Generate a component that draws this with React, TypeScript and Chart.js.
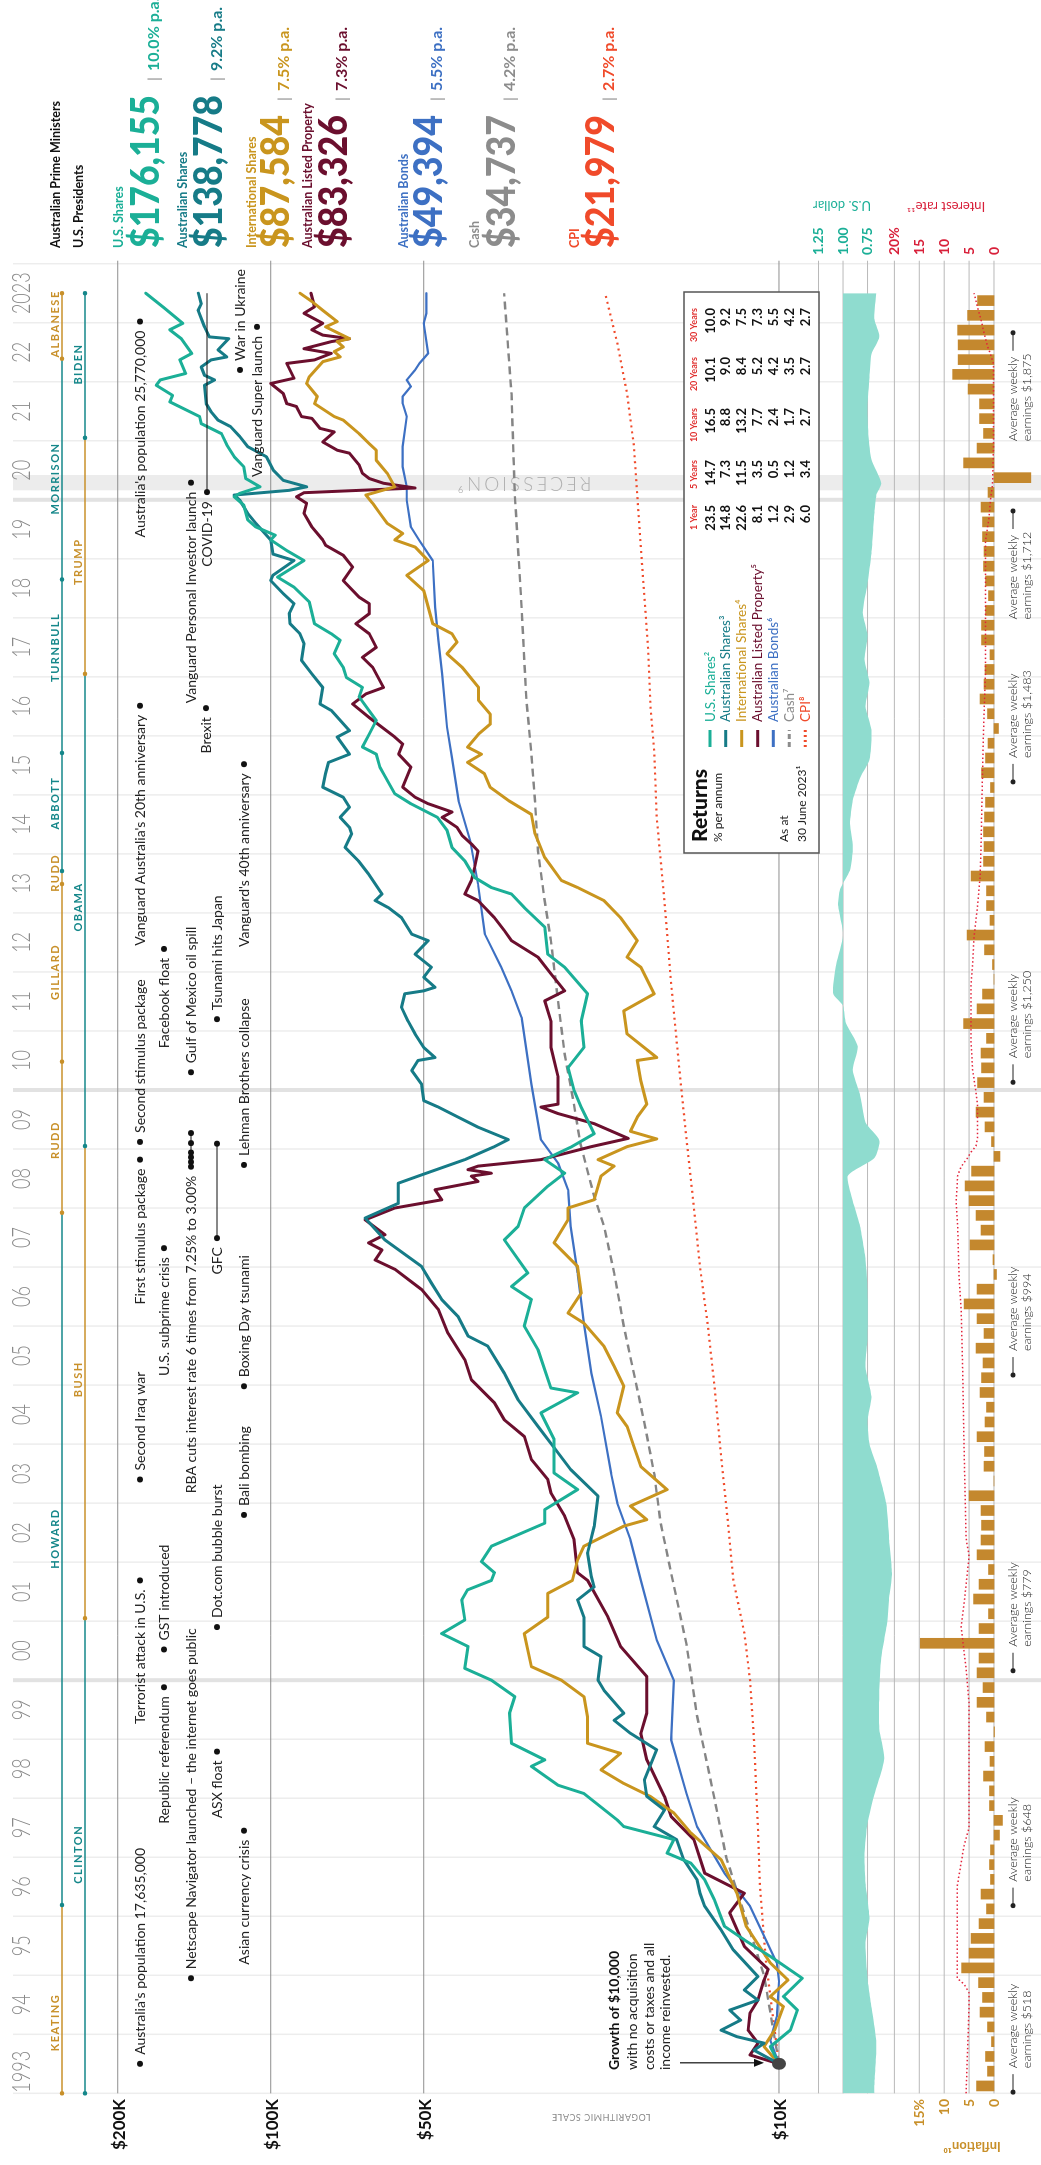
import React, { useEffect, useRef } from 'react';
import { Chart, registerables } from 'chart.js';

Chart.register(...registerables);

// ---------------- DATA ----------------
// Growth of $10,000 invested 30 June 1993 (values in $ thousands), time in decimal years
const usShares = [[1993.5,10],[1993.79,10.4],[1994.07,9.5],[1994.41,9.2],[1994.64,9.8],[1994.95,9.0],[1995.32,10.4],[1995.6,11.7],[1995.83,12.8],[1996.28,13.4],[1996.62,14.0],[1996.9,14.9],[1997.07,16.6],[1997.3,16.1],[1997.52,20.2],[1997.63,20.8],[1998.08,24.2],[1998.22,27.2],[1998.54,30.7],[1998.65,28.9],[1998.93,33.6],[1999.44,33.9],[1999.72,33.1],[2000.0,36.8],[2000.2,41.5],[2000.57,40.9],[2000.79,46.1],[2001.02,41.5],[2001.36,42.1],[2001.53,41.0],[2001.69,36.8],[2001.82,36.3],[2002.01,38.5],[2002.27,36.8],[2002.66,28.9],[2002.89,28.9],[2003.23,24.9],[2003.51,27.7],[2004.08,27.7],[2004.53,29.4],[2004.87,24.9],[2004.95,28.1],[2005.6,29.8],[2006.0,31.7],[2006.45,30.7],[2006.67,33.6],[2006.9,31.2],[2007.46,34.7],[2007.69,32.6],[2008.0,31.7],[2008.37,28.5],[2008.59,26.4],[2008.82,28.9],[2009.03,25.7],[2009.26,23.1],[2009.71,24.5],[2009.99,25.3],[2010.38,26.0],[2010.72,24.2],[2011.17,24.5],[2011.63,23.8],[2012.08,26.4],[2012.3,28.5],[2012.76,28.9],[2013.09,31.7],[2013.32,33.6],[2013.43,36.8],[2013.6,39.7],[2013.88,41.5],[2014.11,44],[2014.4,45],[2014.62,47],[2014.85,53],[2015.02,57],[2015.36,60],[2015.47,61],[2015.69,62],[2015.81,66],[2016.03,64],[2016.26,62],[2016.66,67],[2016.82,66],[2016.99,71],[2017.16,72],[2017.39,75],[2017.62,73],[2017.73,76],[2017.9,82],[2018.27,84],[2018.52,90],[2018.69,97],[2018.97,86],[2019.14,93],[2019.32,100],[2019.4,98],[2019.54,107],[2019.66,111],[2019.91,113],[2020.05,118],[2020.11,115],[2020.22,105],[2020.36,112],[2020.56,113],[2020.73,118],[2020.93,122],[2021.12,125],[2021.29,137],[2021.41,138],[2021.66,158],[2021.77,156],[2021.94,168],[2022.03,165],[2022.14,147],[2022.37,151],[2022.48,143],[2022.73,150],[2022.88,158],[2022.99,149],[2023.25,162],[2023.5,176.155]];
const ausShares = [[1993.5,10],[1993.73,11.2],[1993.85,10.7],[1993.96,12.1],[1994.07,13.0],[1994.24,11.9],[1994.41,12.5],[1994.58,11.0],[1994.75,11.7],[1994.98,11.0],[1995.43,12.3],[1995.77,13.0],[1996.17,14.0],[1996.39,14.3],[1996.62,14.5],[1996.96,15.4],[1997.3,15.9],[1997.52,17.6],[1997.8,16.8],[1998.03,18.2],[1998.31,18.4],[1998.82,17.4],[1999.1,19.6],[1999.32,21.1],[1999.44,20.2],[1999.83,22.1],[2000.0,22.7],[2000.4,22.4],[2000.57,24.2],[2001.07,24.2],[2001.36,24.9],[2001.58,23.1],[2001.76,23.4],[2002.16,23.8],[2002.61,23.1],[2003.12,22.7],[2003.57,25.7],[2003.85,27.2],[2004.3,29.8],[2004.75,32.6],[2005.2,34.7],[2005.66,37.4],[2005.83,40.9],[2006.16,42.8],[2006.45,46.1],[2006.73,48.3],[2007.01,50.5],[2007.46,59.6],[2007.83,65.2],[2008.08,56.1],[2008.42,56.1],[2008.54,51.3],[2008.82,41.5],[2009.04,36.3],[2009.16,34.1],[2009.37,39.1],[2009.54,42.8],[2009.71,46.8],[2009.82,50],[2010.1,50.5],[2010.33,52.8],[2010.5,51.3],[2010.55,47.5],[2010.72,50],[2010.95,52],[2011.17,53.7],[2011.4,55.3],[2011.63,54.5],[2011.68,50],[2011.74,47.5],[2011.91,50],[2012.08,48.3],[2012.3,52],[2012.53,49],[2012.64,52.8],[2012.92,55.3],[2013.09,58.7],[2013.21,62.3],[2013.32,60.4],[2013.66,64.2],[2013.88,67.2],[2014.11,71.4],[2014.34,69.3],[2014.45,70],[2014.62,73],[2014.79,70],[2014.96,72],[2015.13,79],[2015.36,78],[2015.55,77],[2015.69,70],[2015.98,74],[2016.09,70],[2016.43,76],[2016.54,80],[2016.82,79],[2017.05,83],[2017.28,87],[2017.56,86],[2017.73,87.6],[2017.9,91.6],[2018.07,92],[2018.24,90],[2018.41,94.5],[2018.63,100],[2018.72,99],[2018.97,90],[2019.08,99],[2019.32,100],[2019.6,107],[2019.77,111],[2019.99,115],[2020.08,118],[2020.16,92],[2020.22,85],[2020.33,94.5],[2020.5,98.8],[2020.73,102],[2020.9,111],[2021.07,115],[2021.24,120],[2021.35,127],[2021.49,131],[2021.63,134],[2021.94,135],[2022.03,129],[2022.11,135],[2022.25,137],[2022.37,131],[2022.42,122],[2022.54,127],[2022.73,121],[2022.76,132],[2022.93,135],[2023.21,139],[2023.32,137],[2023.5,138.778]];
const intlShares = [[1993.5,10],[1993.79,10.7],[1994.07,10.2],[1994.47,9.8],[1994.64,10.4],[1994.92,9.6],[1995.21,10.4],[1995.83,11.6],[1996.39,12.1],[1996.96,13.0],[1997.41,14.9],[1997.75,16.1],[1998.03,17.9],[1998.25,20.2],[1998.48,22.4],[1998.76,20.5],[1998.93,23.8],[1999.38,23.8],[1999.72,24.2],[2000.0,26.8],[2000.23,30.7],[2000.79,31.7],[2001.07,28.5],[2001.47,28.5],[2001.69,25.5],[2002.04,24.9],[2002.27,24.2],[2002.61,20.2],[2002.72,18.2],[2002.95,19.6],[2003.23,16.6],[2003.62,18.7],[2003.96,19.3],[2004.3,19.9],[2004.53,20.8],[2004.98,20.2],[2005.32,21.1],[2005.66,22.1],[2006.05,24.2],[2006.22,26.0],[2006.56,24.5],[2007.01,24.9],[2007.41,27.7],[2007.8,26.0],[2008.0,26.0],[2008.14,23.1],[2008.54,22.4],[2008.71,21.1],[2008.82,22.7],[2009.04,19.9],[2009.17,17.4],[2009.3,19.6],[2009.54,19.0],[2009.76,18.2],[2010.16,18.7],[2010.5,19.0],[2010.55,17.4],[2010.95,19.9],[2011.34,20.2],[2011.63,17.6],[2012.08,18.7],[2012.25,19.9],[2012.53,19.0],[2012.92,20.5],[2013.21,22.1],[2013.43,24.9],[2013.55,26.8],[2013.94,28.9],[2014.34,30.2],[2014.67,30.7],[2014.9,34],[2015.13,37],[2015.36,38],[2015.55,41],[2015.69,38.5],[2015.81,41],[2016.03,39],[2016.2,37],[2016.37,37],[2016.6,39],[2016.82,39],[2017.16,42],[2017.39,45],[2017.59,43],[2017.73,44],[2017.9,48],[2018.18,49],[2018.46,50],[2018.72,54],[2018.97,49],[2019.2,52],[2019.32,57],[2019.43,55],[2019.6,59],[2019.77,61],[2019.94,63],[2020.08,65],[2020.22,57],[2020.45,59],[2020.67,62],[2020.84,62],[2020.95,64],[2021.12,67],[2021.35,72],[2021.41,75],[2021.63,82],[2021.75,81],[2021.97,85],[2022.08,84],[2022.34,79],[2022.42,73],[2022.51,75],[2022.59,72],[2022.68,74],[2022.73,70],[2022.93,78],[2023.02,74],[2023.21,79],[2023.36,83],[2023.5,87.584]];
const ausProperty = [[1993.5,10],[1993.65,11.4],[1993.85,11.0],[1994.07,11.5],[1994.36,11.4],[1994.58,11.0],[1994.92,10.7],[1995.1,10.5],[1995.49,11.7],[1996.06,12.5],[1996.39,11.7],[1996.73,14.0],[1997.3,14.7],[1997.69,16.3],[1998.03,16.8],[1998.65,18.2],[1999.1,18.7],[1999.44,18.2],[2000.06,18.2],[2000.57,20.5],[2001.07,21.7],[2001.69,23.8],[2001.82,24.9],[2002.38,25.3],[2002.78,26.4],[2003.17,28.1],[2003.4,28.5],[2003.74,30.7],[2004.13,31.7],[2004.41,34.7],[2004.7,36.3],[2005.09,40.3],[2005.43,41.5],[2005.88,44.8],[2006.28,46.8],[2006.62,50.5],[2006.96,56.9],[2007.12,62.3],[2007.29,60.4],[2007.41,64.2],[2007.55,59.6],[2007.8,65.2],[2008.0,57],[2008.14,46.1],[2008.31,47.5],[2008.45,39.1],[2008.54,40.3],[2008.59,36.8],[2008.65,40.9],[2008.71,39.1],[2008.82,29.4],[2009.04,23.4],[2009.18,19.8],[2009.43,23.1],[2009.6,27.2],[2009.71,29.4],[2009.76,27.2],[2010.22,27.2],[2010.72,28.1],[2011.17,28.1],[2011.51,28.9],[2011.68,26.4],[2011.97,28.1],[2012.25,29.8],[2012.53,33.6],[2012.7,34.7],[2012.92,36.3],[2013.21,39.1],[2013.32,41.5],[2013.55,40.3],[2013.77,39.7],[2014.05,39.1],[2014.17,40.3],[2014.31,42],[2014.45,43],[2014.62,46],[2014.71,44],[2014.85,49],[2014.96,52],[2015.13,55],[2015.47,53],[2015.69,56],[2015.86,55],[2015.98,57],[2016.31,64],[2016.54,69],[2016.71,65],[2016.82,60],[2017.16,63],[2017.33,66],[2017.5,62],[2017.73,64],[2017.9,68],[2018.07,64],[2018.24,64],[2018.35,67],[2018.63,72],[2018.86,69],[2019.06,72],[2019.23,78],[2019.32,79],[2019.54,83],[2019.77,86],[2019.94,85],[2020.05,89],[2020.12,86],[2020.2,52],[2020.28,60],[2020.36,64],[2020.45,66],[2020.59,67],[2020.79,70],[2020.84,74],[2020.98,79],[2021.15,75],[2021.21,80],[2021.38,83],[2021.41,87],[2021.58,89],[2021.63,93],[2021.8,94.5],[2021.97,100],[2022.06,90],[2022.31,93],[2022.37,82],[2022.48,76],[2022.56,86],[2022.68,76],[2022.73,70],[2022.79,79],[2022.88,83],[2022.99,79],[2023.16,86],[2023.27,82],[2023.5,83.326]];
const ausBonds = [[1993.5,10],[1993.9,10.4],[1994.3,10.1],[1994.9,10.0],[1995.21,10.1],[1996.17,11.4],[1996.73,12.8],[1997.52,14.5],[1998.08,15.2],[1998.99,16.3],[2000.0,16.1],[2000.68,17.4],[2001.69,18.7],[2002.38,19.6],[2003.0,20.8],[2003.51,21.4],[2004.47,22.4],[2005.2,23.4],[2006.05,24.2],[2006.9,24.9],[2007.69,25.7],[2008.31,26.0],[2008.76,27.2],[2009.16,29.4],[2010.1,30.7],[2011.23,32.1],[2011.68,33.6],[2012.08,35.2],[2012.64,37.9],[2013.49,39.1],[2014.22,40.5],[2014.9,42.7],[2015.64,44],[2016.15,45],[2017.05,46],[2017.62,46.8],[2018.18,47.5],[2018.97,48],[2019.31,51],[2019.54,53],[2019.99,54],[2020.22,54],[2020.56,55],[2020.9,55],[2021.41,54],[2021.63,55],[2021.75,55],[2021.92,53],[2022.03,54],[2022.2,52],[2022.31,51],[2022.48,49],[2022.99,50],[2023.16,49.4],[2023.5,49.394]];
const cash = [[1993.5,10],[1995.0,10.7],[1997.0,12.7],[1998.0,13.4],[1999.4,14.5],[2000.6,15.2],[2001.6,16.1],[2002.67,17.1],[2003.5,17.6],[2004.36,18.4],[2005.2,19.3],[2006.0,20.2],[2006.9,21.1],[2007.7,22.1],[2008.2,23.1],[2009.1,24.6],[2009.83,25.4],[2010.6,26.4],[2011.5,27.2],[2012.53,28.1],[2013.2,28.9],[2014.05,29.8],[2014.9,30.2],[2015.7,30.7],[2016.6,31.4],[2018.4,32.2],[2020.1,33.1],[2021.8,33.6],[2023.5,34.737]];
const cpi = [[1993.5,10],[1995.2,10.6],[1996.5,10.9],[1997.5,11.0],[1999.0,11.2],[2000.0,11.4],[2000.8,11.7],[2001.7,12.3],[2002.67,12.6],[2003.8,13.0],[2005.0,13.4],[2006.0,13.8],[2007.0,14.3],[2008.0,14.7],[2009.16,15.2],[2010.1,15.6],[2011.8,16.3],[2013.2,16.8],[2014.62,17.4],[2015.75,17.6],[2016.5,17.9],[2017.5,18.1],[2018.36,18.4],[2019.2,18.7],[2020.07,19.0],[2020.92,19.3],[2021.8,19.9],[2022.65,20.8],[2023.5,21.979]];

// AUD / USD exchange rate
const audUsd = [[1993.0,0.68],[1993.15,0.68],[1993.85,0.66],[1994.35,0.70],[1994.95,0.75],[1995.56,0.77],[1995.96,0.73],[1996.56,0.77],[1997.07,0.78],[1997.57,0.75],[1998.07,0.68],[1998.67,0.58],[1999.18,0.63],[1999.78,0.63],[2000.38,0.61],[2000.98,0.55],[2001.39,0.53],[2001.79,0.50],[2002.39,0.53],[2003.0,0.56],[2003.6,0.65],[2004.0,0.73],[2004.4,0.75],[2004.8,0.71],[2005.31,0.77],[2005.81,0.75],[2006.61,0.75],[2007.12,0.77],[2007.72,0.83],[2008.12,0.90],[2008.55,0.95],[2008.85,0.68],[2009.15,0.63],[2009.45,0.77],[2009.94,0.83],[2010.34,0.90],[2010.74,0.85],[2011.13,0.97],[2011.43,1.00],[2011.63,1.10],[2012.13,1.07],[2012.62,1.00],[2013.12,1.05],[2013.4,1.03],[2013.72,0.93],[2014.12,0.90],[2014.51,0.93],[2014.91,0.90],[2015.31,0.82],[2015.6,0.73],[2016.1,0.71],[2016.5,0.77],[2016.9,0.73],[2017.3,0.78],[2017.69,0.75],[2018.09,0.80],[2018.59,0.75],[2019.09,0.71],[2019.78,0.68],[2020.08,0.66],[2020.28,0.61],[2020.68,0.71],[2021.07,0.74],[2021.57,0.75],[2022.07,0.73],[2022.47,0.71],[2022.76,0.63],[2023.06,0.68],[2023.5,0.66]];

// Interest rate (%)
const interestRate = [[1993.0,5.6],[1994.5,5.0],[1994.7,5.0],[1994.85,6.0],[1994.95,7.4],[1996.5,7.4],[1996.9,6.6],[1997.2,6.0],[1997.5,5.0],[1999.6,5.0],[2000.2,5.6],[2000.9,6.6],[2001.3,6.0],[2002.1,5.0],[2002.4,5.6],[2003.9,6.0],[2005.3,6.3],[2006.3,6.6],[2006.8,7.0],[2007.7,7.3],[2008.1,7.6],[2008.55,7.3],[2008.7,6.6],[2008.85,5.3],[2008.95,4.6],[2009.05,3.6],[2009.2,3.3],[2009.75,3.3],[2009.95,3.6],[2010.35,4.3],[2010.8,4.6],[2011.8,4.6],[2012.13,4.3],[2012.6,4.0],[2013.12,3.3],[2013.6,2.8],[2014.12,2.6],[2015.4,2.3],[2016.1,2.1],[2017.1,1.7],[2019.3,1.7],[2019.7,1.0],[2020.0,0.7],[2020.25,0.3],[2020.9,0.1],[2022.3,0.1],[2022.47,0.7],[2022.6,1.3],[2022.86,2.1],[2023.05,2.6],[2023.26,3.3],[2023.5,4.0]];

// Inflation, quarterly (annualised %), Q1 1993 .. Q2 2023
const inflationFirstQuarter = 1993.125;
const inflationQ = [3.5,1.3,1.7,0.5, 1.3,2.8,2.3,3.1, 6.5,5.0,4.6,3.0, 1.5,2.6,0.7,0.9, 0.7,-1.1,-1.7,0.9, 0.9,2.1,0.8,1.8, -0.1,1.5,3.4,2.2, 3.4,3.0,14.8,3.0, 1.1,4.1,3.0,1.1, 3.4,2.6,2.5,2.6, 5.0,0.0,2.0,1.9, 3.4,1.8,1.5,2.8, 2.5,2.2,3.6,2.0, 3.4,6.0,3.4,-0.5, 0.2,4.8,2.6,3.6, 5.0,5.8,4.5,-1.2, 0.5,1.8,3.6,2.0, 3.3,2.5,2.6,1.5, 6.1,3.4,2.3,0.0, 0.3,1.9,5.4,0.8, 1.5,1.5,4.6,2.1, 2.0,2.1,1.9,1.7, 0.7,2.5,1.7,1.2, -0.9,1.3,2.8,2.0, 1.8,0.8,2.5,2.5, 1.7,1.1,1.7,2.1, 2.0,2.3,2.3,2.6, 1.2,-7.4,6.1,3.4, 2.1,2.9,2.9,5.2, 8.3,7.2,7.2,7.3, 5.3,3.3];

// Tick labels
const yearLabels = ['1993','94','95','96','97','98','99','00','01','02','03','04','05','06','07','08','09','10','11','12','13','14','15','16','17','18','19','20','21','22','2023'];
const valueTicks = [200000, 100000, 50000, 10000];
const valueTickLabels = ['$200K', '$100K', '$50K', '$10K'];
const usdTicks = [1.25, 1.0, 0.75];
const usdTickLabels = ['1.25', '1.00', '0.75'];
const rateTicks = [20, 15, 10, 5, 0];
const rateTickLabels = ['20%', '15', '10', '5', '0'];
const inflTicks = [15, 10, 5, 0];
const inflTickLabels = ['15%', '10', '5', '0'];

// Series names, final values & returns
const seriesNames = ['U.S. Shares', 'Australian Shares', 'International Shares', 'Australian Listed Property', 'Australian Bonds', 'Cash', 'CPI'];
const legendNames = ['U.S. Shares²', 'Australian Shares³', 'International Shares⁴', 'Australian Listed Property⁵', 'Australian Bonds⁶', 'Cash⁷', 'CPI⁸'];
const finalValues = ['$176,155', '$138,778', '$87,584', '$83,326', '$49,394', '$34,737', '$21,979'];
const paReturns = ['10.0% p.a.', '9.2% p.a.', '7.5% p.a.', '7.3% p.a.', '5.5% p.a.', '4.2% p.a.', '2.7% p.a.'];
const returnHeaders = ['1 Year', '5 Years', '10 Years', '20 Years', '30 Years'];
const returns1y = [23.5, 14.8, 22.6, 8.1, 1.2, 2.9, 6.0];
const returns5y = [14.7, 7.3, 11.5, 3.5, 0.5, 1.2, 3.4];
const returns10y = [16.5, 8.8, 13.2, 7.7, 2.4, 1.7, 2.7];
const returns20y = [10.1, 9.0, 8.4, 5.2, 4.2, 3.5, 2.7];
const returns30y = [10.0, 9.2, 7.5, 7.3, 5.5, 4.2, 2.7];

// Leaders
const primeMinisters = [
  { name: 'KEATING', start: 1993.0, end: 1996.19, side: 'labor', mid: 1994.2 },
  { name: 'HOWARD', start: 1996.19, end: 2007.92, side: 'lib', mid: 2002.4 },
  { name: 'RUDD', start: 2007.92, end: 2010.48, side: 'labor', mid: 2009.15 },
  { name: 'GILLARD', start: 2010.48, end: 2013.49, side: 'labor', mid: 2012.0 },
  { name: 'RUDD', start: 2013.49, end: 2013.71, side: 'labor', mid: 2013.68 },
  { name: 'ABBOTT', start: 2013.71, end: 2015.71, side: 'lib', mid: 2014.86 },
  { name: 'TURNBULL', start: 2015.71, end: 2018.65, side: 'lib', mid: 2017.5 },
  { name: 'MORRISON', start: 2018.65, end: 2022.39, side: 'lib', mid: 2020.36 },
  { name: 'ALBANESE', start: 2022.39, end: 2023.5, side: 'labor', mid: 2022.98 },
];
const presidents = [
  { name: 'CLINTON', start: 1993.0, end: 2001.05, side: 'lib', mid: 1997.05 },
  { name: 'BUSH', start: 2001.05, end: 2009.05, side: 'labor', mid: 2005.1 },
  { name: 'OBAMA', start: 2009.05, end: 2017.05, side: 'lib', mid: 2013.1 },
  { name: 'TRUMP', start: 2017.05, end: 2021.05, side: 'labor', mid: 2018.95 },
  { name: 'BIDEN', start: 2021.05, end: 2023.5, side: 'lib', mid: 2022.3 },
];

// Events: t = date of dot, side L = dot before text, R = dot after text
const events = [
  { t: 1993.5, text: "Australia's population 17,635,000", row: 0, side: 'L' },
  { t: 1994.95, text: 'Netscape Navigator launched – the internet goes public', row: 2, side: 'L' },
  { t: 1997.45, text: 'Asian currency crisis', row: 4, side: 'R' },
  { t: 1998.79, text: 'ASX float', row: 3, side: 'R' },
  { t: 1999.88, text: 'Republic referendum', row: 1, side: 'R' },
  { t: 2000.52, text: 'GST introduced', row: 1, side: 'L' },
  { t: 2000.9, text: 'Dot.com bubble burst', row: 3, side: 'L' },
  { t: 2001.69, text: 'Terrorist attack in U.S.', row: 0, side: 'R' },
  { t: 2002.8, text: 'Bali bombing', row: 4, side: 'L' },
  { t: 2003.4, text: 'Second Iraq war', row: 0, side: 'L' },
  { t: 2004.98, text: 'Boxing Day tsunami', row: 4, side: 'L' },
  { t: 2007.32, text: 'U.S. subprime crisis', row: 1, side: 'R' },
  { t: 2008.73, text: 'Lehman Brothers collapse', row: 4, side: 'L' },
  { t: 2008.82, text: 'First stimulus package', row: 0, side: 'R' },
  { t: 2009.12, text: 'Second stimulus package', row: 0, side: 'L' },
  { t: 2010.3, text: 'Gulf of Mexico oil spill', row: 2, side: 'L' },
  { t: 2011.2, text: 'Tsunami hits Japan', row: 3, side: 'L' },
  { t: 2012.39, text: 'Facebook float', row: 1, side: 'R' },
  { t: 2015.52, text: "Vanguard's 40th anniversary", row: 4, side: 'R' },
  { t: 2016.47, text: 'Brexit', row: 5, side: 'R' },
  { t: 2016.51, text: "Vanguard Australia's 20th anniversary", row: 0, side: 'R' },
  { t: 2020.29, text: 'Vanguard Personal Investor launch', row: 2, side: 'R' },
  { t: 2022.2, text: 'War in Ukraine', row: 6, side: 'L' },
  { t: 2022.93, text: 'Vanguard Super launch', row: 7, side: 'R' },
  { t: 2023.02, text: "Australia's population 25,770,000", row: 0, side: 'R' },
];
const rbaCutDates = [2008.7, 2008.78, 2008.86, 2008.94, 2009.1, 2009.27];
const gfcSpan = [2007.49, 2009.09];
const covidStart = 2020.13;
const recessionSpan = [2020.16, 2020.42];

const earnings = [
  { t: 1993.02, text: '$518', side: 'L' },
  { t: 1996.18, text: '$648', side: 'L' },
  { t: 2000.16, text: '$779', side: 'L' },
  { t: 2005.17, text: '$994', side: 'L' },
  { t: 2010.13, text: '$1,250', side: 'L' },
  { t: 2015.22, text: '$1,483', side: 'L' },
  { t: 2019.81, text: '$1,712', side: 'R' },
  { t: 2022.83, text: '$1,875', side: 'R' },
];

// ---------------- STYLE ----------------
const W = 2165, H = 1041;
const X_MIN = 1991.7855, X_MAX = 2028.468;
const YV_MIN = 3051, YV_MAX = 340950;
const YU_MIN = -1.02, YU_MAX = 9.602;
const YR_MIN = -9.44, YR_MAX = 199.6;
const F = 'Lato, "Open Sans", "DejaVu Sans", sans-serif';
const COL = ['#1BAF97', '#167B87', '#C9951E', '#6B0F2E', '#3D70C3', '#8C8C8C', '#F04A2A'];
const GOLD = '#C8902A';
const PARTY_TEAL = '#15878A';
const RED = '#D8203A';

function T(ctx: any, s: string, x: number, y: number, o: any) {
  ctx.save();
  ctx.translate(x, y);
  if (o.rot) ctx.rotate(o.rot);
  ctx.font = o.font;
  ctx.fillStyle = o.color || '#222';
  ctx.textAlign = o.align || 'left';
  ctx.textBaseline = o.base || 'alphabetic';
  ctx.letterSpacing = o.ls || '0px';
  if (o.width) {
    const w = ctx.measureText(s).width;
    if (w > 0) ctx.scale(o.width / w, 1);
  } else if (o.sx) ctx.scale(o.sx, 1);
  ctx.fillText(s, 0, 0);
  ctx.restore();
}
function L(ctx: any, x1: number, y1: number, x2: number, y2: number, color: string, w: number, dash?: number[]) {
  ctx.save();
  ctx.beginPath();
  ctx.strokeStyle = color;
  ctx.lineWidth = w;
  ctx.setLineDash(dash || []);
  ctx.moveTo(x1, y1);
  ctx.lineTo(x2, y2);
  ctx.stroke();
  ctx.restore();
}
function D(ctx: any, x: number, y: number, r: number, color: string) {
  ctx.save();
  ctx.beginPath();
  ctx.fillStyle = color;
  ctx.arc(x, y, r, 0, Math.PI * 2);
  ctx.fill();
  ctx.restore();
}
function measure(ctx: any, s: string, font: string) {
  ctx.save();
  ctx.font = font;
  const w = ctx.measureText(s).width;
  ctx.restore();
  return w;
}

const decor = {
  id: 'decor',
  beforeDraw(chart: any) {
    const ctx = chart.ctx;
    ctx.save();
    ctx.fillStyle = '#fff';
    ctx.fillRect(0, 0, W, H);
    ctx.restore();
  },
  beforeDatasetsDraw(chart: any) {
    const ctx = chart.ctx;
    const X = (t: number) => chart.scales.x.getPixelForValue(t);
    const yv = (v: number) => chart.scales.yv.getPixelForValue(v);
    const yu = (v: number) => chart.scales.yu.getPixelForValue(v);
    const yr = (v: number) => chart.scales.yr.getPixelForValue(v);
    const x0 = X(1993), x1 = X(2024);

    ctx.save();
    ctx.fillStyle = 'rgba(0,0,0,0.075)';
    ctx.fillRect(X(recessionSpan[0]), 13, X(recessionSpan[1]) - X(recessionSpan[0]), H - 13);
    ctx.restore();

    for (let y = 1993; y <= 2024; y++) {
      const dec = y % 10 === 0;
      L(ctx, X(y), 13, X(y), H, dec ? '#e2e2e2' : '#ededed', dec ? 4 : 1.5);
    }
    valueTicks.forEach(v => L(ctx, x0, yv(v), x1 + 3, yv(v), '#8f8f8f', 1));
    usdTicks.forEach(u => L(ctx, x0, yu(u), x1 + 3, yu(u), '#b9b9b9', 1));
    rateTicks.forEach(r => L(ctx, x0, yr(r), x1 + 3, yr(r), '#b9b9b9', 1));

    T(ctx, 'RECESSION⁹', X((recessionSpan[0] + recessionSpan[1]) / 2), 523, { font: `300 19px ${F}`, color: '#b0b0b0', align: 'center', base: 'middle', rot: -Math.PI / 2, ls: '3px' });

    yearLabels.forEach((s, i) => {
      const cx = i === 0 ? X(1993.5) - 8 : X(1993.5 + i);
      T(ctx, s, cx, 30, { font: `300 25px ${F}`, color: '#8a8a8a', align: 'center', sx: 0.72 });
    });

    const drawLeaders = (arr: any[], ly: number, partyCols: any) => {
      arr.forEach(p => {
        const c = partyCols[p.side];
        L(ctx, X(p.start), ly, X(p.end), ly, c, 1.3);
        D(ctx, X(p.start), ly, 2.3, c);
        T(ctx, p.name, X(p.mid), ly - 3, { font: `bold 11px ${F}`, color: c, align: 'center', ls: '1.5px' });
      });
      const last = arr[arr.length - 1];
      D(ctx, X(last.end), ly, 2.3, partyCols[last.side]);
    };
    drawLeaders(primeMinisters, 62, { labor: GOLD, lib: PARTY_TEAL });
    drawLeaders(presidents, 85, { labor: GOLD, lib: PARTY_TEAL });
  },
  afterDatasetsDraw(chart: any) {
    const ctx = chart.ctx;
    const X = (t: number) => chart.scales.x.getPixelForValue(t);
    const yv = (v: number) => chart.scales.yv.getPixelForValue(v);
    const yu = (v: number) => chart.scales.yu.getPixelForValue(v);
    const yr = (v: number) => chart.scales.yr.getPixelForValue(v);

    valueTicks.forEach((v, i) => T(ctx, valueTickLabels[i], 66, yv(v) + 2, { font: `bold 17px ${F}`, color: '#111', align: 'right', base: 'middle' }));
    T(ctx, 'LOGARITHMIC SCALE', 48, 601, { font: `9px ${F}`, color: '#8a8a8a', align: 'center', base: 'middle', rot: -Math.PI / 2, ls: '0.5px' });
    inflTicks.forEach((v, i) => T(ctx, inflTickLabels[i], 66, yr(v), { font: `bold 14px ${F}`, color: GOLD, align: 'right', base: 'middle' }));
    T(ctx, 'Inflation¹⁰', 19, 972, { font: `bold 13px ${F}`, color: GOLD, align: 'center', base: 'middle', rot: -Math.PI / 2 });

    usdTicks.forEach((u, i) => T(ctx, usdTickLabels[i], 1910, yu(u), { font: `bold 14px ${F}`, color: COL[0], align: 'left', base: 'middle' }));
    rateTicks.forEach((r, i) => T(ctx, rateTickLabels[i], 1910, yr(r), { font: `bold 14px ${F}`, color: RED, align: 'left', base: 'middle' }));
    T(ctx, 'U.S. dollar', 1960, 842, { font: `13px ${F}`, color: COL[0], align: 'center', base: 'middle', rot: -Math.PI / 2 });
    T(ctx, 'Interest rate¹¹', 1959, 946, { font: `13px ${F}`, color: RED, align: 'center', base: 'middle', rot: -Math.PI / 2 });

    T(ctx, 'Australian Prime Ministers', 1917, 60, { font: `bold 12.5px ${F}`, color: '#111' });
    T(ctx, 'U.S. Presidents', 1917, 83, { font: `bold 12.5px ${F}`, color: '#111' });

    const labelY = [123, 187, 256, 312, 408, 479, 579];
    const numY = [159, 222, 289, 347, 442, 515, 614];
    const numW = [153, 153, 133, 133, 133, 133, 133];
    seriesNames.forEach((n, i) => {
      const lx = 1917;
      T(ctx, n, lx, labelY[i], { font: `bold 12.5px ${F}`, color: COL[i] });
      T(ctx, finalValues[i], lx, numY[i], { font: `900 40px ${F}`, color: COL[i], width: numW[i] });
      T(ctx, '|', lx + numW[i] + 14, numY[i], { font: `bold 15px ${F}`, color: '#a8a8a8' });
      T(ctx, paReturns[i], lx + numW[i] + 24, numY[i], { font: `bold 16px ${F}`, color: COL[i] });
    });

    const rowY = [145, 169, 196, 222, 249, 211, 245, 262];
    const ef = `14px ${F}`;
    events.forEach(e => {
      const by = rowY[e.row];
      const dx = X(e.t);
      D(ctx, dx, by - 5, 3, '#111');
      if (e.side === 'L') T(ctx, e.text, dx + 9, by, { font: ef, color: '#222' });
      else T(ctx, e.text, dx - 9, by, { font: ef, color: '#222', align: 'right' });
    });
    {
      const by = rowY[2];
      T(ctx, 'RBA cuts interest rate 6 times from 7.25% to 3.00%', X(rbaCutDates[0]) - 9, by, { font: ef, color: '#222', align: 'right' });
      L(ctx, X(rbaCutDates[0]), by - 5, X(rbaCutDates[rbaCutDates.length - 1]), by - 5, '#111', 1);
      rbaCutDates.forEach(t => D(ctx, X(t), by - 5, 3, '#111'));
    }
    {
      const by = rowY[3];
      T(ctx, 'GFC', X(gfcSpan[0]) - 9, by, { font: ef, color: '#222', align: 'right' });
      L(ctx, X(gfcSpan[0]), by - 5, X(gfcSpan[1]), by - 5, '#111', 1);
      D(ctx, X(gfcSpan[0]), by - 5, 3, '#111');
      D(ctx, X(gfcSpan[1]), by - 5, 3, '#111');
    }
    {
      const by = 212;
      T(ctx, 'COVID-19', X(covidStart) - 9, by, { font: ef, color: '#222', align: 'right' });
      L(ctx, X(covidStart), by - 5, X(2023.5), by - 5, '#111', 1);
      D(ctx, X(covidStart), by - 5, 3, '#111');
    }

    const af = `300 12.5px ${F}`;
    earnings.forEach(e => {
      const dx = X(e.t);
      const y1 = 1017, y2 = 1031;
      if (e.side === 'L') {
        D(ctx, dx, y1 - 4, 2.5, '#222');
        L(ctx, dx, y1 - 4, dx + 18, y1 - 4, '#222', 1);
        T(ctx, 'Average weekly', dx + 24, y1, { font: af, color: '#222' });
        T(ctx, 'earnings ' + e.text, dx + 24, y2, { font: af, color: '#222' });
      } else {
        const w1 = measure(ctx, 'Average weekly', af);
        const sx0 = dx - 24 - w1;
        D(ctx, dx, y1 - 4, 2.5, '#222');
        L(ctx, dx - 18, y1 - 4, dx, y1 - 4, '#222', 1);
        T(ctx, 'Average weekly', sx0, y1, { font: af, color: '#222' });
        T(ctx, 'earnings ' + e.text, sx0, y2, { font: af, color: '#222' });
      }
    });

    const sx0 = X(1993.5);
    T(ctx, 'Growth of $10,000', 95, 619, { font: `bold 14px ${F}`, color: '#111' });
    T(ctx, 'with no acquisition', 95, 637, { font: `14px ${F}`, color: '#222' });
    T(ctx, 'costs or taxes and all', 95, 654, { font: `14px ${F}`, color: '#222' });
    T(ctx, 'income reinvested.', 95, 670, { font: `14px ${F}`, color: '#222' });
    L(ctx, sx0 + 1, 680, sx0 + 1, 756, '#111', 1.2);
    ctx.save();
    ctx.beginPath();
    ctx.fillStyle = '#111';
    ctx.moveTo(sx0 + 1, 764);
    ctx.lineTo(sx0 - 3, 754);
    ctx.lineTo(sx0 + 5, 754);
    ctx.closePath();
    ctx.fill();
    ctx.restore();
    ctx.save();
    ctx.beginPath();
    ctx.fillStyle = '#444';
    ctx.ellipse(sx0, yv(10000), 6, 7, 0, 0, Math.PI * 2);
    ctx.fill();
    ctx.restore();

    const bx0 = 1312, bx1 = 1873, by0 = 684, by1 = 819;
    ctx.save();
    ctx.fillStyle = '#fff';
    ctx.fillRect(bx0, by0, bx1 - bx0, by1 - by0);
    ctx.strokeStyle = '#555';
    ctx.lineWidth = 1.5;
    ctx.strokeRect(bx0, by0, bx1 - bx0, by1 - by0);
    ctx.restore();
    T(ctx, 'Returns', 1323, 707, { font: `900 21px ${F}`, color: '#111' });
    T(ctx, '% per annum', 1323, 722, { font: `12px ${F}`, color: '#111' });
    T(ctx, 'As at', 1323, 788, { font: `12px ${F}`, color: '#222' });
    T(ctx, '30 June 2023¹', 1323, 806, { font: `12px ${F}`, color: '#222' });
    const rowsY = [710, 725.7, 741.7, 757.7, 773.3, 789.3, 805.3];
    const colX = [1660, 1705, 1757, 1808, 1857];
    const cols = [returns1y, returns5y, returns10y, returns20y, returns30y];
    returnHeaders.forEach((h, j) => T(ctx, h, colX[j], 697, { font: `bold 9px ${F}`, color: '#E0302F', align: 'right' }));
    legendNames.forEach((n, i) => {
      const y = rowsY[i];
      const dash = i === 5 ? [5, 3] : i === 6 ? [2, 3] : [];
      L(ctx, 1418, y, 1435, y, COL[i], 3, dash);
      T(ctx, n, 1443, y + 4.5, { font: `13.5px ${F}`, color: COL[i] });
      cols.forEach((c, j) => T(ctx, c[i].toFixed(1), colX[j], y + 4.5, { font: `bold 13px ${F}`, color: '#111', align: 'right' }));
    });
  },
};

const toPts = (arr: number[][], mult: number) => arr.map(([t, v]) => ({ x: t, y: v * mult }));
const hiddenScale = { display: false, bounds: 'data', offset: false, ticks: { display: false }, grid: { display: false }, border: { display: false }, title: { display: false } };

export default function App() {
  const ref = useRef<HTMLCanvasElement>(null);
  useEffect(() => {
    const canvas = ref.current;
    if (!canvas) return;
    const lineDs = (label: string, data: number[][], color: string, width: number, order: number, extra: any = {}) => ({
      type: 'line', label, data: toPts(data, 1000), yAxisID: 'yv', xAxisID: 'x',
      borderColor: color, borderWidth: width, pointRadius: 0, tension: 0, fill: false, clip: false,
      borderJoinStyle: 'round', borderCapStyle: 'round', order, ...extra,
    });
    const chart: any = new Chart(canvas, {
      type: 'line',
      data: {
        datasets: [
          lineDs(seriesNames[0], usShares, COL[0], 3, 1),
          lineDs(seriesNames[1], ausShares, COL[1], 3, 2),
          lineDs(seriesNames[2], intlShares, COL[2], 3, 3),
          lineDs(seriesNames[3], ausProperty, COL[3], 3, 4),
          lineDs(seriesNames[4], ausBonds, COL[4], 2.2, 5),
          lineDs(seriesNames[5], cash, '#858585', 2.4, 6, { borderDash: [8, 5], borderCapStyle: 'butt' }),
          lineDs(seriesNames[6], cpi, COL[6], 2.2, 7, { borderDash: [2, 4], borderCapStyle: 'butt' }),
          {
            type: 'line', label: 'Interest rate', data: toPts(interestRate, 1), yAxisID: 'yr', xAxisID: 'x',
            borderColor: '#E2223A', borderWidth: 1.5, borderDash: [1.5, 2.5], pointRadius: 0, tension: 0, fill: false, clip: false, order: 8,
          },
          {
            type: 'bar', label: 'Inflation', data: inflationQ.map((v, i) => ({ x: inflationFirstQuarter + i * 0.25, y: v })),
            yAxisID: 'yr', xAxisID: 'x', backgroundColor: '#C4882E', borderWidth: 0, barThickness: 10, clip: false, order: 9,
          },
          {
            type: 'line', label: 'U.S. dollar', data: toPts(audUsd, 1), yAxisID: 'yu', xAxisID: 'x',
            borderColor: 'rgba(0,0,0,0)', borderWidth: 0, backgroundColor: '#8FDCCF', pointRadius: 0, tension: 0.2,
            fill: { value: 1 }, clip: false, order: 10,
          },
        ],
      } as any,
      options: {
        responsive: false,
        maintainAspectRatio: false,
        animation: false,
        devicePixelRatio: 1,
        events: [],
        layout: { padding: 0, autoPadding: false },
        plugins: { legend: { display: false }, tooltip: { enabled: false }, title: { display: false }, subtitle: { display: false } },
        scales: {
          x: { ...hiddenScale, type: 'linear', min: X_MIN, max: X_MAX },
          yv: { ...hiddenScale, type: 'logarithmic', min: YV_MIN, max: YV_MAX },
          yu: { ...hiddenScale, type: 'linear', min: YU_MIN, max: YU_MAX },
          yr: { ...hiddenScale, type: 'linear', min: YR_MIN, max: YR_MAX },
        },
      } as any,
      plugins: [decor as any],
    });
    // make the scale mapping independent of the chart area Chart.js settles on
    for (let k = 0; k < 4; k++) {
      const ca = chart.chartArea;
      if (!ca) break;
      if (Math.abs(ca.left) < 0.5 && Math.abs(ca.right - W) < 0.5 && Math.abs(ca.top) < 0.5 && Math.abs(ca.bottom - H) < 0.5) break;
      const sc = chart.options.scales;
      const bx = W / (X_MAX - X_MIN);
      sc.x.min = X_MIN + ca.left / bx;
      sc.x.max = X_MIN + ca.right / bx;
      const lmax = Math.log10(YV_MAX), kv = H / (lmax - Math.log10(YV_MIN));
      sc.yv.max = Math.pow(10, lmax - ca.top / kv);
      sc.yv.min = Math.pow(10, lmax - ca.bottom / kv);
      const ku = H / (YU_MAX - YU_MIN);
      sc.yu.max = YU_MAX - ca.top / ku;
      sc.yu.min = YU_MAX - ca.bottom / ku;
      const kr = H / (YR_MAX - YR_MIN);
      sc.yr.max = YR_MAX - ca.top / kr;
      sc.yr.min = YR_MAX - ca.bottom / kr;
      chart.update();
    }
    return () => chart.destroy();
  }, []);
  return (
    <div style={{ position: 'absolute', left: 0, top: 0, width: 1041, height: 2165, overflow: 'hidden', background: '#fff' }}>
      <canvas
        ref={ref}
        width={W}
        height={H}
        style={{ position: 'absolute', left: 0, top: 0, width: W, height: H, transformOrigin: '0 0', transform: `translate(0px, ${W}px) rotate(-90deg)` }}
      />
    </div>
  );
}
